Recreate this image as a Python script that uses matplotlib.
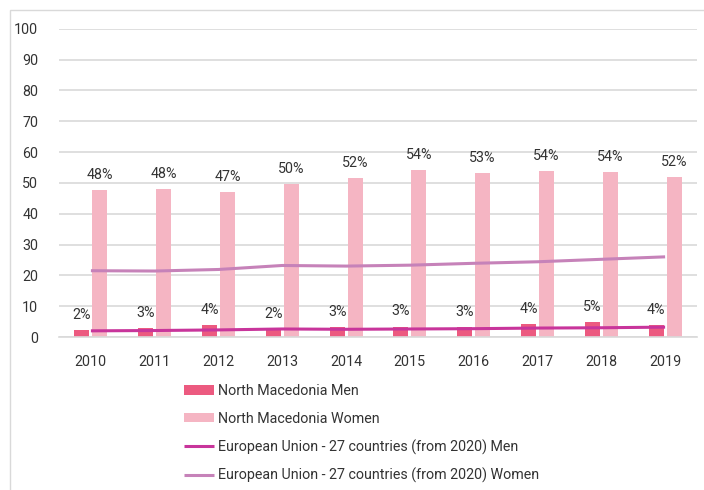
import matplotlib.pyplot as plt
import numpy as np
from matplotlib.patches import Rectangle

plt.rcParams['font.family'] = ['Roboto', 'DejaVu Sans']

years = ['2010', '2011', '2012', '2013', '2014', '2015', '2016', '2017', '2018', '2019']
nm_men = [2.2, 2.8, 3.8, 2.4, 3.1, 3.4, 3.1, 4.1, 4.8, 3.8]
nm_women = [47.6, 47.9, 47.0, 49.6, 51.5, 54.1, 53.1, 53.8, 53.5, 51.9]
eu_men = [2.0, 2.1, 2.3, 2.6, 2.5, 2.6, 2.7, 2.9, 3.0, 3.2]
eu_women = [21.5, 21.4, 21.9, 23.2, 23.0, 23.3, 23.9, 24.4, 25.2, 26.0]
men_labels = ['2%', '3%', '4%', '2%', '3%', '3%', '3%', '4%', '5%', '4%']
women_labels = ['48%', '48%', '47%', '50%', '52%', '54%', '53%', '54%', '54%', '52%']

c_men = '#EC5a80'
c_women = '#F5B5C3'
c_eu_men = '#C8359B'
c_eu_women = '#C682B9'
txt = '#333333'
fs = 10.3

fig = plt.figure(figsize=(7.04, 4.90), dpi=100)
ax = fig.add_axes([59/704, 1 - 337/490, 638/704, 308.3/490])

# outer frame of the chart
fig.patches.append(Rectangle((10/704, -0.1), 1.2, 1 - 10/490 + 0.1, transform=fig.transFigure,
                             fill=False, edgecolor='#D9D9D9', linewidth=1.0))

x = np.arange(len(years))
w = 0.235
off = 0.14
b1 = ax.bar(x - off, nm_men, w, color=c_men, zorder=2)
b2 = ax.bar(x + off, nm_women, w, color=c_women, zorder=2)
l1, = ax.plot(x, eu_men, color=c_eu_men, lw=2.2, zorder=3, solid_capstyle='butt')
l2, = ax.plot(x, eu_women, color=c_eu_women, lw=2.2, zorder=3, solid_capstyle='butt')

for i in range(len(years)):
    ax.annotate(men_labels[i], (x[i] - off, nm_men[i]), xytext=(0, 6), textcoords='offset points',
                ha='center', va='bottom', fontsize=fs, color=txt)
    ax.annotate(women_labels[i], (x[i] + off, nm_women[i]), xytext=(0, 6), textcoords='offset points',
                ha='center', va='bottom', fontsize=fs, color=txt)

ax.set_xlim(-0.5, len(years) - 0.5)
ax.set_ylim(0, 100)
ax.set_yticks(range(0, 101, 10))
ax.set_xticks(x)
ax.set_xticklabels(years)
ax.tick_params(axis='both', length=0, labelsize=fs, colors=txt)
ax.tick_params(axis='y', pad=15)
ax.tick_params(axis='x', pad=13)
ax.yaxis.grid(True, color='#D9D9D9', linewidth=1.2)
ax.set_axisbelow(True)
for s in ['top', 'right', 'left']:
    ax.spines[s].set_visible(False)
ax.spines['bottom'].set_color('#D9D9D9')
ax.spines['bottom'].set_linewidth(1.2)

fig.legend([b1, b2, l1, l2],
           ['North Macedonia Men', 'North Macedonia Women',
            'European Union - 27 countries (from 2020) Men',
            'European Union - 27 countries (from 2020) Women'],
           loc='upper left', bbox_to_anchor=(184/704, 1 - 384/490), frameon=False,
           fontsize=fs, handlelength=2.1, handleheight=0.65, handletextpad=0.3,
           labelspacing=0.95, borderpad=0, borderaxespad=0, labelcolor=txt)

fig.savefig('out.png', dpi=100)
